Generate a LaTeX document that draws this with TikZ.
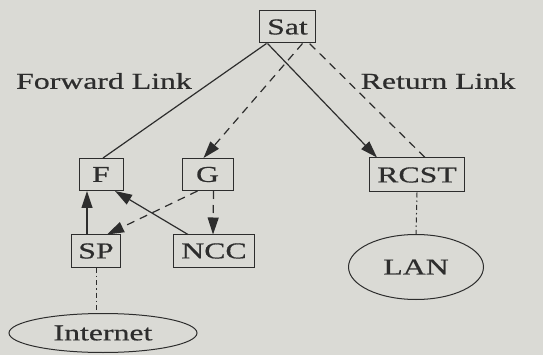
\documentclass[tikz,border=0pt]{standalone}
\usepackage{fontspec}
\setmainfont[FakeStretch=1.4,FakeBold=0.6]{Liberation Serif}
\usetikzlibrary{arrows.meta,shapes.geometric}
\definecolor{paper}{RGB}{218,218,213}
\definecolor{ink}{RGB}{45,45,45}
\begin{document}
\begin{tikzpicture}[x=1pt,y=-1pt,font=\fontsize{22.7}{27}\selectfont,color=ink,
        box/.style={draw,line width=1pt,minimum width=44pt,minimum height=32pt,inner xsep=8pt,inner ysep=0pt},
        cloud/.style={draw,ellipse,line width=1pt,inner sep=0pt},
        link/.style={line width=1.2pt},
        tip/.style={-{Triangle[length=17pt,width=11pt]}},
        tether/.style={line width=1pt,dash pattern=on 5pt off 3pt on 1.5pt off 3pt}]
        \fill [paper] (0,0) rectangle (543,355);
        \useasboundingbox (0,0) rectangle (543,355);
        % boxes
        \node [box] (sat) at (287.5,27) {Sat};
        \node [box] (f) at (101,174.5) {F};
        \node [box,minimum width=51pt] (g) at (207.5,174.5) {G};
        \node [box,inner xsep=7pt] (sp) at (96,251) {SP};
        \node [box] (ncc) at (214,251) {NCC};
        \node [box,minimum height=34pt] (rcst) at (417,175) {RCST};
        \node [cloud,minimum width=188pt,minimum height=39pt] (inet) at (103,333) {Internet};
        \node [cloud,minimum width=135pt,minimum height=65pt] (lan) at (416,267) {LAN};
        \node (fwd) at (104,81) {Forward Link};
        \node (ret) at (438,81) {Return Link};
        % links
        \draw [link] ([xshift=-21pt]sat.south) -- ([xshift=2pt]f.north);
        \draw [link,tip] ([xshift=-20pt]sat.south) -- ([xshift=-40pt]rcst.north);
        \draw [link,tip,dash pattern=on 8pt off 6pt] ([xshift=15pt]sat.south) -- ([xshift=-4pt]g.north);
        \draw [link,dash pattern=on 8pt off 6pt] ([xshift=8pt]rcst.north) -- ([xshift=22pt]sat.south);
        \draw [link,tip] ([xshift=-9pt]sp.north) -- ([xshift=-14pt]f.south);
        \draw [link,tip] ([xshift=-26pt]ncc.north) -- ([xshift=14pt]f.south);
        \draw [link,tip,dash pattern=on 8pt off 6pt] ([xshift=-10pt]g.south) -- ([xshift=11pt]sp.north);
        \draw [link,tip,dash pattern=on 8pt off 6pt] ([xshift=6pt]g.south) -- ([xshift=-1pt]ncc.north);
        \draw [tether] (sp.south) -- (sp.south |- inet.north);
        \draw [tether] (rcst.south) -- (lan.north);
\end{tikzpicture}
\end{document}
